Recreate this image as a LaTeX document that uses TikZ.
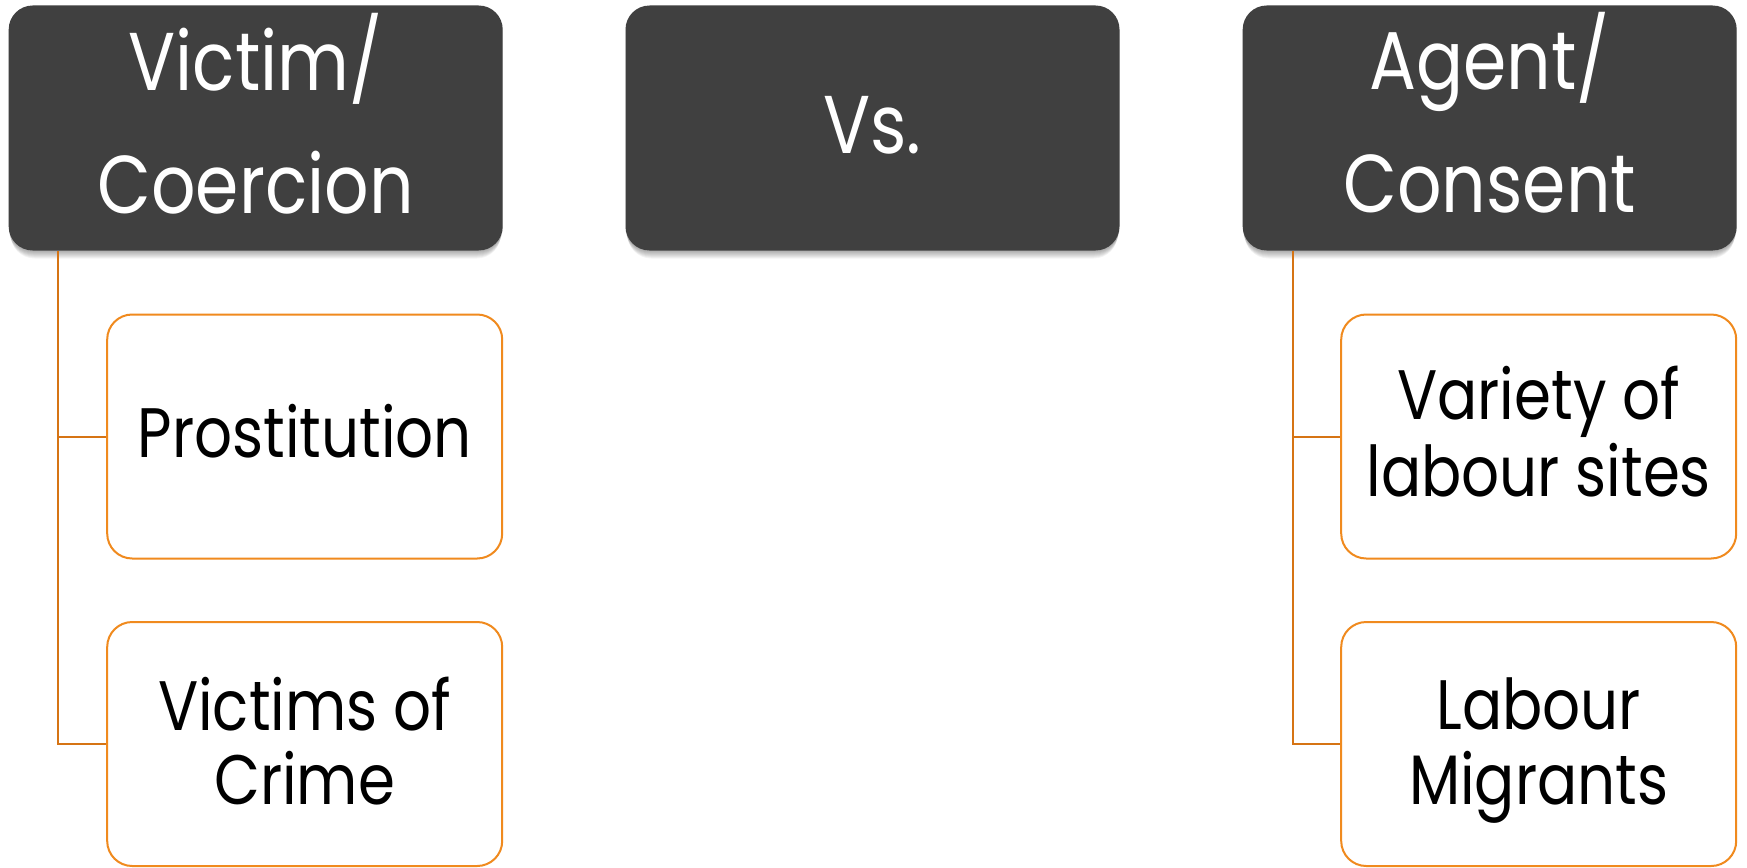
\documentclass[tikz,border=0pt]{standalone}
\usepackage{fontspec}
\newfontfamily\gfont[FakeStretch=0.85]{Poppins}
\definecolor{darkbox}{RGB}{64,64,64}
\definecolor{boxorange}{RGB}{240,138,30}
\definecolor{lineorange}{RGB}{214,116,20}
\begin{document}
\begin{tikzpicture}[x=1pt,y=-1pt,
  headbox/.style={fill=darkbox, draw=none, rounded corners=24pt, minimum width=494pt, minimum height=245pt, inner sep=0pt},
  shadowlayer/.style={fill=black, opacity=0.045, rounded corners=24pt},
  childbox/.style={draw=boxorange, line width=2pt, fill=white, rounded corners=25pt, minimum width=395pt, minimum height=244pt, inner sep=0pt},
  conn/.style={draw=lineorange, line width=2pt},
  htext/.style={text=white, font=\gfont\fontsize{82}{98}\selectfont, inner sep=0pt, anchor=base},
  ctext/.style={text=black, font=\gfont\fontsize{70}{84}\selectfont, inner sep=0pt, anchor=base}]
\useasboundingbox[fill=white] (0,0) rectangle (1747,867);

% soft shadows under the header boxes
\foreach \cx in {255.7,872.5,1489.7}{
  \foreach \d in {1,...,8}{
    \fill[shadowlayer] (\cx-247.5+0.3*\d,5.5+\d) rectangle (\cx+247.5-0.3*\d,250.5+\d);
  }
}

% header boxes
\node[headbox] (L) at (255.7,128) {};
\node[headbox] (M) at (872.5,128) {};
\node[headbox] (R) at (1489.7,128) {};

% child boxes
\node[childbox] (L1) at (304.7,436.5) {};
\node[childbox] (L2) at (304.7,744) {};
\node[childbox] (R1) at (1538.7,436.5) {};
\node[childbox] (R2) at (1538.7,744) {};

% connectors
\coordinate (lx) at (58,250.5);
\coordinate (rx) at (1292.5,250.5);
\draw[conn] (lx) |- (L2.west);
\draw[conn] (L1.west -| lx) -- (L1.west);
\draw[conn] (rx) |- (R2.west);
\draw[conn] (R1.west -| rx) -- (R1.west);

% header texts
\node[htext] (t1) at (255.7,90) {Victim/};
\node[htext] (t2) at (255.7,213) {Coercion};
\node[htext] (t3) at (872.5,153) {Vs.};
\node[htext] (t4) at (1489.7,89) {Agent/};
\node[htext] (t5) at (1489.7,212) {Consent};

% child texts
\node[ctext] (c1) at (304.7,457) {Prostitution};
\node[ctext] (c2) at (304.7,730) {Victims of};
\node[ctext] (c3) at (304.7,804.5) {Crime};
\node[ctext] (c4) at (1538.7,419) {Variety of};
\node[ctext] (c5) at (1538.7,496) {labour sites};
\node[ctext] (c6) at (1538.7,729) {Labour};
\node[ctext] (c7) at (1538.7,804) {Migrants};
\end{tikzpicture}
\end{document}
